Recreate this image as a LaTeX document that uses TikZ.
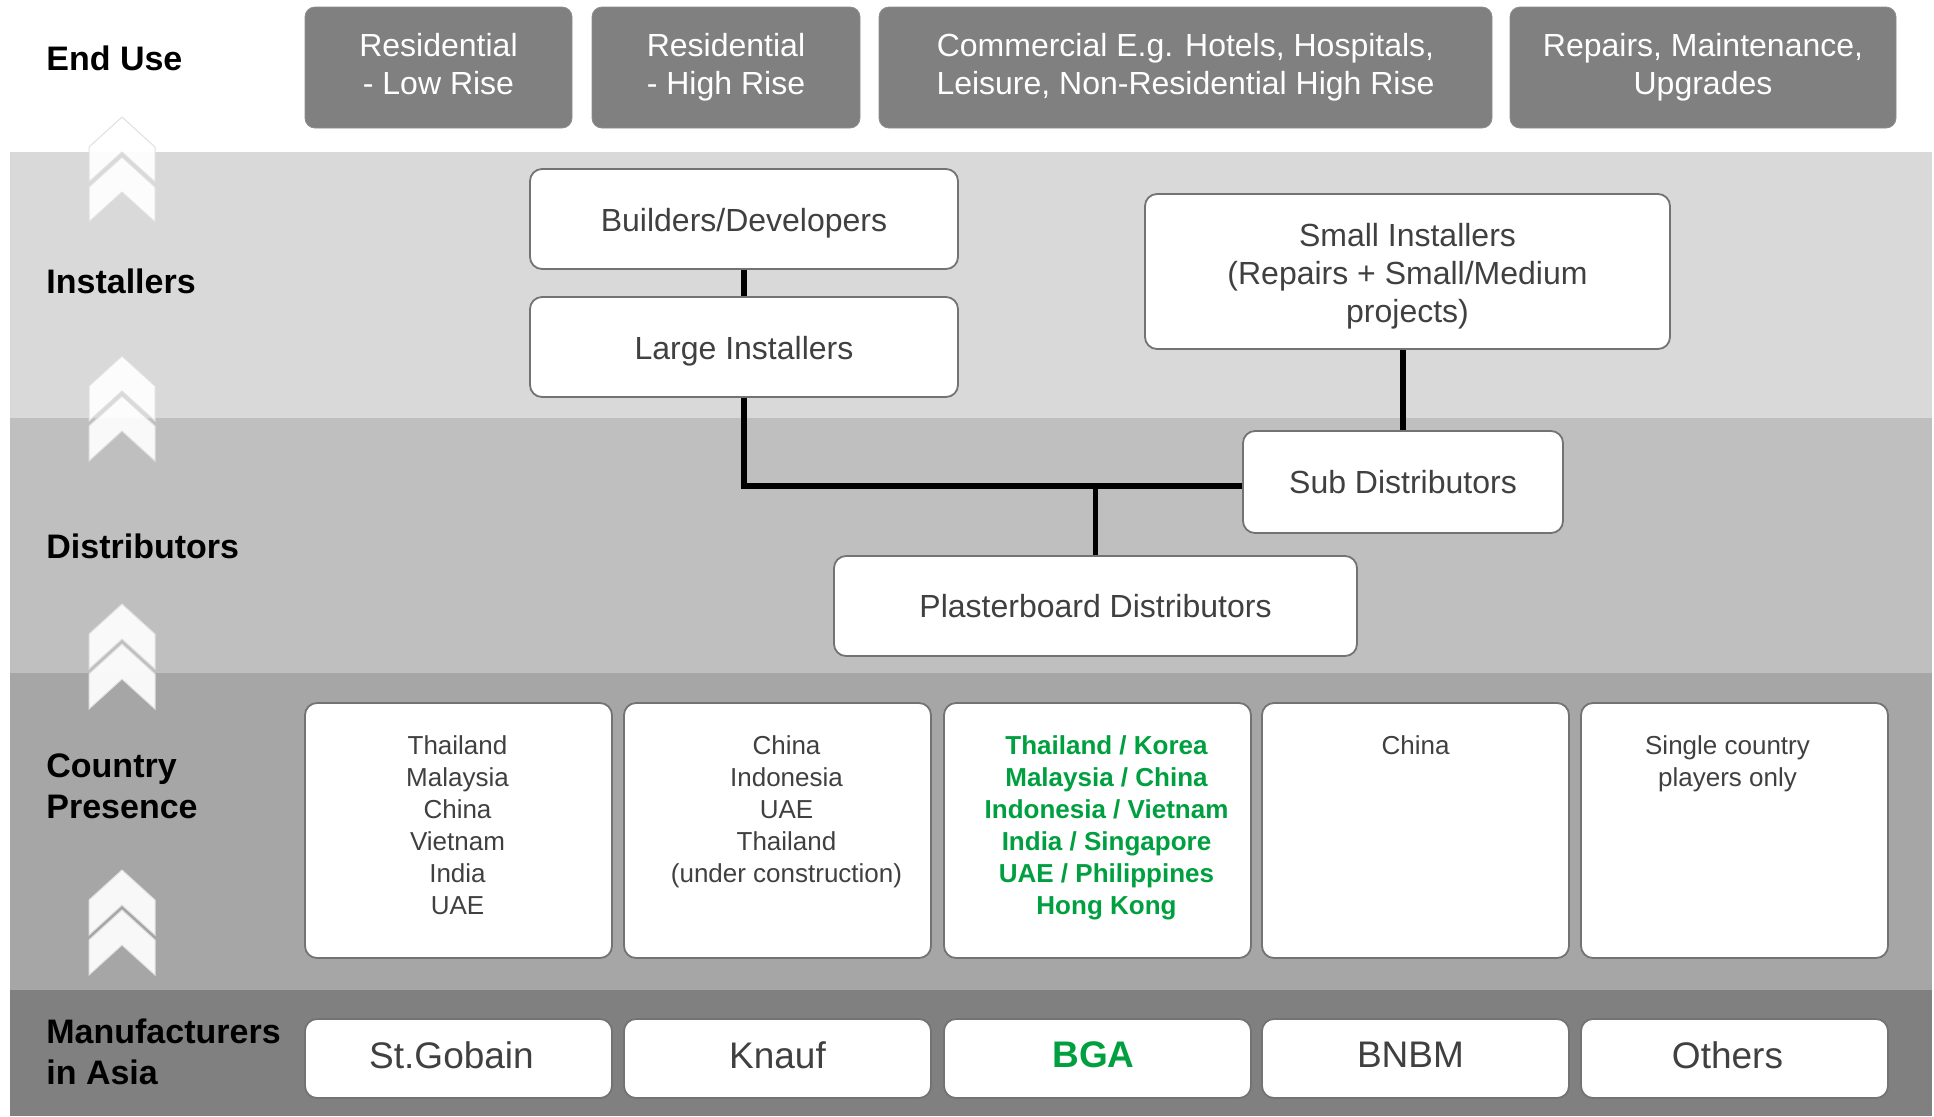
\documentclass[tikz,border=0pt]{standalone}
\usepackage{fontspec}
\setmainfont{Liberation Sans}
\definecolor{bandA}{HTML}{D9D9D9}
\definecolor{bandB}{HTML}{BFBFBF}
\definecolor{bandC}{HTML}{A6A6A6}
\definecolor{bandD}{HTML}{808080}
\definecolor{usegray}{HTML}{808080}
\definecolor{textgray}{HTML}{404040}
\definecolor{bgagreen}{HTML}{00A040}
\tikzset{
	usebox/.style={fill=usegray, draw=black!45, rounded corners=5pt, text=white, align=center, inner sep=0pt, font=\fontsize{16}{19}\selectfont},
	chainbox/.style={fill=white, draw=black!55, line width=0.9pt, rounded corners=6pt, text=textgray, align=center, inner sep=0pt, font=\fontsize{16}{19}\selectfont},
	countrybox/.style={chainbox, minimum width=153.5pt, minimum height=127.5pt, font=\fontsize{13}{16}\selectfont},
	makerbox/.style={chainbox, minimum width=153.5pt, minimum height=39.5pt, text depth=3.7pt, font=\fontsize{18.5}{22}\selectfont},
	rowlabel/.style={anchor=west, align=left, inner sep=0pt, font=\bfseries\fontsize{17}{20.5}\selectfont},
	link/.style={line width=2.8pt, black},
	chevron/.style={fill=white, fill opacity=0.92, draw=black!12, line width=0.5pt}
}
% country list, top aligned; #1 nudges the text sideways
\newcommand{\cpbox}[2]{\hspace*{#1}\parbox[c][127.5pt][t]{140pt}{\centering\rule{0pt}{25.5pt}#2}}
\begin{document}
\begin{tikzpicture}[x=0.5pt,y=-0.5pt]
	\useasboundingbox (0,0) rectangle (1934,1116);
	% layer bands
	\fill[bandA] (10,152) rectangle (1932,418);
	\fill[bandB] (10,418) rectangle (1932,673);
	\fill[bandC] (10,673) rectangle (1932,990);
	\fill[bandD] (10,990) rectangle (1932,1116);
	% chevrons on the left
	\foreach \ya in {117,356,604,870}{
		\foreach \dy in {0,40}{
			\draw[chevron] (89,{\ya+\dy+65}) -- ++(0,-35) -- (122,{\ya+\dy}) -- (155,{\ya+\dy+30}) -- ++(0,35) -- (122,{\ya+\dy+35}) -- cycle;
		}
	}
	% row labels
	\node[rowlabel] (L1) at (46,58) {End Use};
	\node[rowlabel] (L2) at (46,281) {Installers};
	\node[rowlabel] (L3) at (46,546) {Distributors};
	\node[rowlabel] (L4) at (46,786) {Country\\Presence};
	\node[rowlabel] (L5) at (46,1052) {Manufacturers\\in Asia};
	% end use
	\node[usebox, minimum width=133.5pt, minimum height=60.5pt] (U1) at (438.5,67.5) {Residential\\- Low Rise\rule[-3.5pt]{0pt}{1pt}};
	\node[usebox, minimum width=134pt, minimum height=60.5pt] (U2) at (726,67.5) {Residential\\- High Rise};
	\node[usebox, minimum width=306.5pt, minimum height=60.5pt] (U3) at (1185.5,67.5) {Commercial E.g. Hotels, Hospitals,\\Leisure, Non-Residential High Rise};
	\node[usebox, minimum width=193pt, minimum height=60.5pt] (U4) at (1703,67.5) {Repairs, Maintenance,\\Upgrades};
	% installers and distributors
	\node[chainbox, minimum width=214pt, minimum height=50pt] (BD) at (744,219) {\rule{0pt}{15.5pt}Builders/Developers};
	\node[chainbox, minimum width=214pt, minimum height=50pt] (LI) at (744,347) {\rule{0pt}{16pt}Large Installers};
	\node[chainbox, minimum width=262.5pt, minimum height=77.5pt] (SI) at (1407.5,271.5) {\rule{0pt}{16pt}Small Installers\\(Repairs + Small/Medium\\projects)};
	\node[chainbox, minimum width=160pt, minimum height=51pt] (SD) at (1403,482) {Sub Distributors};
	\node[chainbox, minimum width=261.5pt, minimum height=50pt] (PD) at (1095.5,606) {Plasterboard Distributors};
	\coordinate (J) at ([yshift=-2pt]SD.west);
	\draw[link] (BD) -- (LI);
	\draw[link] (LI.south) -- (LI.south |- J) -- (J);
	\draw[link] (PD.north) -- (PD.north |- J);
	\draw[link] (SD.north) -- (SD.north |- SI.south);
	% country presence
	\node[countrybox] (C1) at (458.5,830.5) {\cpbox{-1pt}{Thailand\\Malaysia\\China\\Vietnam\\India\\UAE}};
	\node[countrybox] (C2) at (777.5,830.5) {\cpbox{9pt}{China\\Indonesia\\UAE\\Thailand\\(under construction)}};
	\node[countrybox] (C3) at (1097.5,830.5) {\cpbox{9pt}{\color{bgagreen}\bfseries Thailand / Korea\\Malaysia / China\\Indonesia / Vietnam\\India / Singapore\\UAE / Philippines\\Hong Kong}};
	\node[countrybox] (C4) at (1415.5,830.5) {\cpbox{0pt}{China}};
	\node[countrybox] (C5) at (1734.5,830.5) {\cpbox{-7pt}{Single country\\players only}};
	% manufacturers
	\node[makerbox] (M1) at (458.5,1058.5) {\hspace*{-7pt}St.Gobain};
	\node[makerbox] (M2) at (777.5,1058.5) {Knauf};
	\node[makerbox, text=bgagreen, font=\bfseries\fontsize{18.5}{22}\selectfont] (M3) at (1097.5,1058.5) {\hspace*{-4pt}BGA};
	\node[makerbox] (M4) at (1415.5,1058.5) {\hspace*{-5pt}BNBM};
	\node[makerbox] (M5) at (1734.5,1058.5) {\hspace*{-7pt}Others};
\end{tikzpicture}
\end{document}
